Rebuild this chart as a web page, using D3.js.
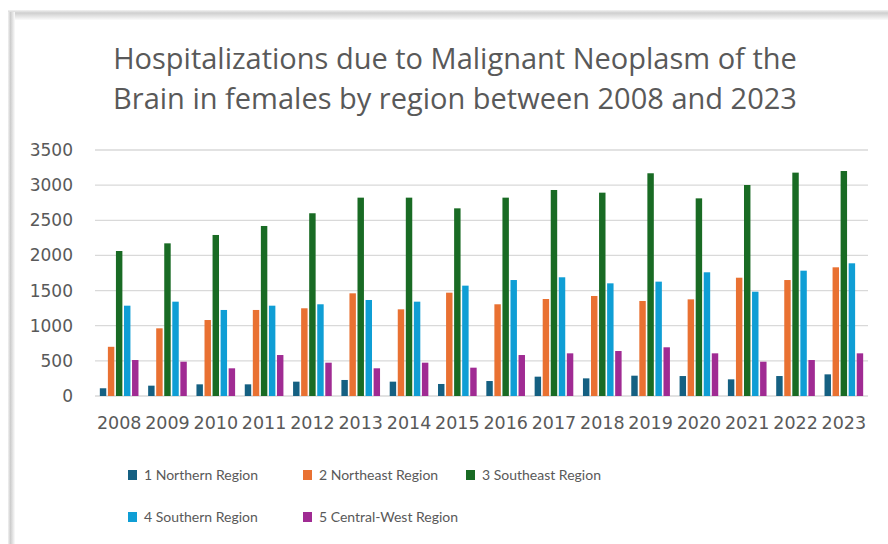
<!DOCTYPE html>
<html><head><meta charset="utf-8">
<script src="https://cdn.jsdelivr.net/npm/d3@7"></script>
<style>html,body{margin:0;padding:0;background:#fff;}</style>
</head><body>
<svg id="c" width="888" height="544"></svg>
<script>
const years = ["2008","2009","2010","2011","2012","2013","2014","2015","2016","2017","2018","2019","2020","2021","2022","2023"];
const seriesNames = ["1 Northern Region","2 Northeast Region","3 Southeast Region","4 Southern Region","5 Central-West Region"];
const northern   = [110,147,166,166,204,228,204,171,213,275,251,289,284,237,284,308];
const northeast  = [700,963,1081,1224,1248,1461,1233,1470,1305,1380,1423,1352,1375,1683,1650,1831];
const southeast  = [2063,2172,2291,2419,2600,2822,2822,2670,2822,2931,2893,3169,2812,3002,3178,3201];
const southern   = [1285,1342,1224,1285,1305,1366,1342,1570,1650,1689,1603,1627,1760,1484,1783,1888];
const centralW   = [512,488,394,583,474,394,474,403,583,607,640,693,607,488,512,607];
const yTicks = [0,500,1000,1500,2000,2500,3000,3500];
const colors = ["#156082","#E97132","#196B24","#0F9ED5","#A02B93"];
const titleLines = ["Hospitalizations due to Malignant Neoplasm of the","Brain in females by region between 2008 and 2023"];

const allSeries = [northern, northeast, southeast, southern, centralW];
const svg = d3.select("#c");
const defs = svg.append("defs");
const gt = defs.append("linearGradient").attr("id","gt").attr("x1",0).attr("y1",0).attr("x2",0).attr("y2",1);
gt.append("stop").attr("offset","0%").attr("stop-color","#f2f2f2");
gt.append("stop").attr("offset","30%").attr("stop-color","#cfcfcf");
gt.append("stop").attr("offset","100%").attr("stop-color","#fbfbfb");
const gl = defs.append("linearGradient").attr("id","gl").attr("x1",0).attr("y1",0).attr("x2",1).attr("y2",0);
gl.append("stop").attr("offset","0%").attr("stop-color","#f2f2f2");
gl.append("stop").attr("offset","35%").attr("stop-color","#cdcdcd");
gl.append("stop").attr("offset","100%").attr("stop-color","#fbfbfb");
svg.append("rect").attr("x",8).attr("y",10).attr("width",880).attr("height",10).attr("fill","url(#gt)");
svg.append("rect").attr("x",8).attr("y",12).attr("width",7).attr("height",532).attr("fill","url(#gl)");

const x0 = d3.scaleBand().domain(years).range([95,868]).paddingInner(0.2).paddingOuter(0.1);
const x1 = d3.scaleBand().domain(d3.range(5)).range([0,x0.bandwidth()]).paddingInner(0.2);
const y = d3.scaleLinear().domain([0,3500]).range([396,150]);

// gridlines
svg.append("g").selectAll("line").data(yTicks).join("line")
  .attr("x1",95).attr("x2",868).attr("y1",d=>y(d)).attr("y2",d=>y(d))
  .attr("stroke","#d9d9d9").attr("stroke-width",1.3);

// y axis labels
const yAxis = d3.axisLeft(y).tickValues(yTicks).tickFormat(d3.format("d")).tickSize(0).tickPadding(0);
const ya = svg.append("g").attr("transform","translate(73,0)").call(yAxis);
ya.select(".domain").remove();
ya.selectAll("text").attr("fill","#595959").attr("font-family","DejaVu Sans").attr("font-size",17);

// x axis labels
const xAxis = d3.axisBottom(x0).tickSize(0).tickPadding(0);
const xa = svg.append("g").attr("transform","translate(0,417)").call(xAxis);
xa.select(".domain").remove();
xa.selectAll("text").attr("fill","#595959").attr("font-family","DejaVu Sans").attr("font-size",17.5);

// bars
const groups = svg.append("g").selectAll("g").data(years).join("g")
  .attr("transform",d=>`translate(${x0(d)},0)`);
groups.selectAll("rect").data((d,i)=>allSeries.map((s,k)=>({k,v:s[i]}))).join("rect")
  .attr("x",d=>x1(d.k)).attr("width",x1.bandwidth())
  .attr("y",d=>y(d.v)).attr("height",d=>y(0)-y(d.v))
  .attr("fill",d=>colors[d.k]);

// title
svg.append("g").selectAll("text").data(titleLines).join("text")
  .attr("x",455).attr("y",(d,i)=>69+i*40).attr("text-anchor","middle")
  .attr("fill","#595959").attr("font-family","Open Sans").attr("font-size",29)
  .text(d=>d);

// legend
const legPos = [[128,475],[303,475],[466,475],[128,517],[303,517]];
const leg = svg.append("g").selectAll("g").data(seriesNames).join("g")
  .attr("transform",(d,i)=>`translate(${legPos[i][0]},${legPos[i][1]})`);
leg.append("rect").attr("x",0).attr("y",-5).attr("width",9).attr("height",10).attr("fill",(d,i)=>colors[i]);
leg.append("text").attr("x",16).attr("y",5).attr("fill","#595959")
  .attr("font-family","Lato").attr("font-size",14).text(d=>d);
</script>
</body></html>
